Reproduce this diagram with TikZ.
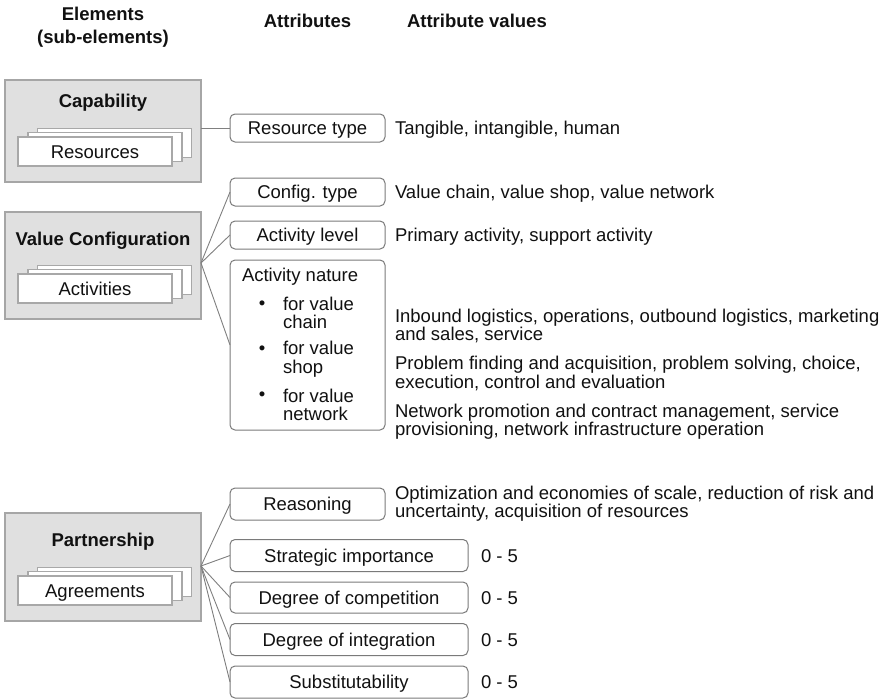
\documentclass[tikz,border=0pt]{standalone}
\usepackage{fontspec}
\setmainfont{Liberation Sans}
\definecolor{elemfill}{HTML}{E0E0E0}
\definecolor{elemborder}{HTML}{A6A6A6}
\definecolor{cardborder}{HTML}{A8A8A8}
\definecolor{attrborder}{HTML}{7A7A7A}
\definecolor{connclr}{HTML}{808080}
\definecolor{txt}{HTML}{111111}
\begin{document}
\begin{tikzpicture}[x=1pt,y=-1pt,
  every node/.style={inner sep=0pt, outer sep=0pt, text=txt, font=\fontsize{18.5}{17}\selectfont},
  one/.style={text height=13.2pt, text depth=0pt},
  elembox/.style={rectangle, draw=elemborder, fill=elemfill, line width=1.4pt, minimum width=196pt},
  etitle/.style={one, font=\bfseries\fontsize{18.5}{17}\selectfont},
  card/.style={one, rectangle, draw=cardborder, fill=white, line width=1.4pt, minimum width=154pt, minimum height=29pt},
  attr/.style={one, rectangle, rounded corners=5pt, draw=attrborder, fill=white, line width=1pt, minimum width=155pt, minimum height=28pt},
  wattr/.style={attr, minimum width=238pt, minimum height=32pt},
  conn/.style={draw=connclr, line width=0.9pt},
  hdr/.style={font=\bfseries\fontsize{18.5}{23}\selectfont, align=center},
  val/.style={anchor=west, align=left},
  sval/.style={one, anchor=west},
  item/.style={anchor=west, align=left, font=\fontsize{18.5}{18.7}\selectfont}
]
\useasboundingbox[fill=white] (0,0) rectangle (890,699);

% headers
\node[hdr] (h1) at (103,27) {Elements\\(sub-elements)};
\node[hdr, one] (h2) at (307.5,21) {Attributes};
\node[hdr, one, anchor=west] (h3) at (407,21) {Attribute values};

% ---------- Capability ----------
\node[elembox, minimum height=102pt] (cap) at (103,131) {};
\node[etitle] (capt) at (103,101) {Capability};
\node[card] (capc3) at (114.5,143) {};
\node[card] (capc2) at (105,147) {};
\node[card] (capc1) at (95,151.5) {Resources};
\coordinate (co1) at (201,128);

\node[attr] (rt) at (307.5,128) {Resource type};
\draw[conn] (co1) -- (rt.west);
\node[sval] (v1) at (395,128) {Tangible, intangible, human};

% ---------- Value Configuration ----------
\node[elembox, minimum height=107pt] (vc) at (103,265.5) {};
\node[etitle] (vct) at (103,239) {Value Configuration};
\node[card] (vcc3) at (114.5,280) {};
\node[card] (vcc2) at (105,284) {};
\node[card] (vcc1) at (95,288.5) {Activities};
\coordinate (co2) at (201,263);

\node[attr] (ct) at (307.5,192) {Config. type};
\node[attr] (al) at (307.5,235) {Activity level};
\node[attr, minimum height=170pt] (an) at (307.5,345) {};
\draw[conn] (co2) -- (ct.west);
\draw[conn] (co2) -- (al.west);
\draw[conn] (co2) -- (an.west);

\node[sval] (ant) at (242,275) {Activity nature};
\node[anchor=base] (b1) at (262,309) {•};
\node[anchor=base] (b2) at (262,354.3) {•};
\node[anchor=base] (b3) at (262,400.7) {•};
\node[item] (i1) at (283,313) {for value\\chain};
\node[item] (i2) at (283,359) {for value\\shop};
\node[item] (i3) at (283,405) {for value\\network};

\node[sval] (v2) at (395,192) {Value chain, value shop, value network};
\node[sval] (v3) at (395,235) {Primary activity, support activity};
\node[val] (v4) at (395,326) {Inbound logistics, operations, outbound logistics, marketing\\and sales, service};
\node[val] (v5) at (395,373.5) {Problem finding and acquisition, problem solving, choice,\\execution, control and evaluation};
\node[val] (v6) at (395,421.5) {Network promotion and contract management, service\\provisioning, network infrastructure operation};

% ---------- Partnership ----------
\node[elembox, minimum height=108pt] (pa) at (103,567) {};
\node[etitle] (pat) at (103,540) {Partnership};
\node[card] (pac3) at (114.5,582) {};
\node[card] (pac2) at (105,586) {};
\node[card] (pac1) at (95,590.5) {Agreements};
\coordinate (co3) at (201,566);

\node[attr, minimum height=32pt] (re) at (307.5,504) {Reasoning};
\node[wattr] (si) at (349,555.5) {Strategic importance};
\node[wattr, minimum height=31pt] (dc) at (349,597.5) {Degree of competition};
\node[wattr] (di) at (349,639.5) {Degree of integration};
\node[wattr] (su) at (349,682) {Substitutability};
\draw[conn] (co3) -- (re.west);
\draw[conn] (co3) -- (si.west);
\draw[conn] (co3) -- (dc.west);
\draw[conn] (co3) -- (di.west);
\draw[conn] (co3) -- (su.west);

\node[val] (v7) at (395,504) {Optimization and economies of scale, reduction of risk and\\uncertainty, acquisition of resources};
\node[sval] (v8) at (481,555.5) {0 - 5};
\node[sval] (v9) at (481,597.5) {0 - 5};
\node[sval] (v10) at (481,639.5) {0 - 5};
\node[sval] (v11) at (481,682) {0 - 5};
\end{tikzpicture}
\end{document}
